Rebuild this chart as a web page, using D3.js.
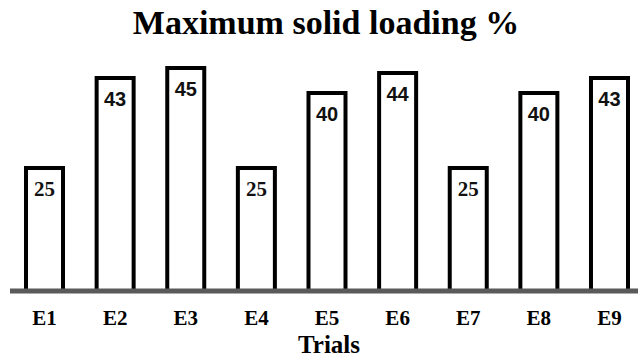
<!DOCTYPE html>
<html>
<head>
<meta charset="utf-8">
<script src="https://cdn.jsdelivr.net/npm/d3@7"></script>
<style>
  html, body { margin: 0; padding: 0; background: #fff; }
  svg { display: block; }
</style>
</head>
<body>
<svg id="chart" width="638" height="360"></svg>
<script>
// Trial names and their maximum solid loading (%)
const trials = ["E1", "E2", "E3", "E4", "E5", "E6", "E7", "E8", "E9"];
const loading = [25, 43, 45, 25, 40, 44, 25, 40, 43];

const W = 638, H = 360;
const baseY = 291;
const serif = "'Liberation Serif', 'Times New Roman', serif";
const sans = "'Liberation Sans', Arial, sans-serif";

const svg = d3.select("#chart");

const x = d3.scaleBand()
  .domain(trials)
  .range([9.2, 644.8])
  .paddingInner(0.476)
  .paddingOuter(0.238);

const y = d3.scaleLinear()
  .domain([0, 50])
  .range([baseY, baseY - 250]);

const data = trials.map((t, i) => ({ t, v: loading[i] }));

// Title
svg.append("text")
  .attr("x", 326)
  .attr("y", 34)
  .attr("text-anchor", "middle")
  .style("font-family", serif)
  .style("font-weight", "bold")
  .style("font-size", "34px")
  .text("Maximum solid loading %");

// Outlined bars
const sw = 4;
svg.append("g").selectAll("rect")
  .data(data)
  .join("rect")
  .attr("x", d => x(d.t))
  .attr("y", d => y(d.v) + sw / 2)
  .attr("width", x.bandwidth())
  .attr("height", d => baseY - y(d.v) - sw / 2)
  .attr("fill", "#fff")
  .attr("stroke", "#000")
  .attr("stroke-width", sw);

// Value labels inside the top of each bar
svg.append("g").selectAll("text")
  .data(data)
  .join("text")
  .attr("x", d => x(d.t) + x.bandwidth() / 2)
  .attr("y", d => y(d.v) + 30)
  .attr("text-anchor", "middle")
  .attr("font-family", d => d.v >= 40 ? sans : serif)
  .attr("font-weight", "bold")
  .attr("font-size", d => d.v >= 40 ? 20 : 21)
  .attr("fill", "#111")
  .text(d => d.v);

// Baseline axis
const axis = svg.append("g")
  .attr("transform", `translate(0,${baseY})`)
  .call(d3.axisBottom(x).tickSize(0).tickPadding(0));
axis.select(".domain").remove();
axis.append("line")
  .attr("x1", 10).attr("x2", W)
  .attr("y1", 0).attr("y2", 0)
  .attr("stroke", "#5a5a5a")
  .attr("stroke-width", 5);
axis.selectAll(".tick text")
  .attr("y", 34)
  .attr("dy", null)
  .attr("fill", "#000")
  .style("font-family", serif)
  .style("font-weight", "bold")
  .style("font-size", "21px");

// Axis title
svg.append("text")
  .attr("x", 329)
  .attr("y", 353)
  .attr("text-anchor", "middle")
  .style("font-family", serif)
  .style("font-weight", "bold")
  .style("font-size", "25px")
  .text("Trials");
</script>
</body>
</html>
